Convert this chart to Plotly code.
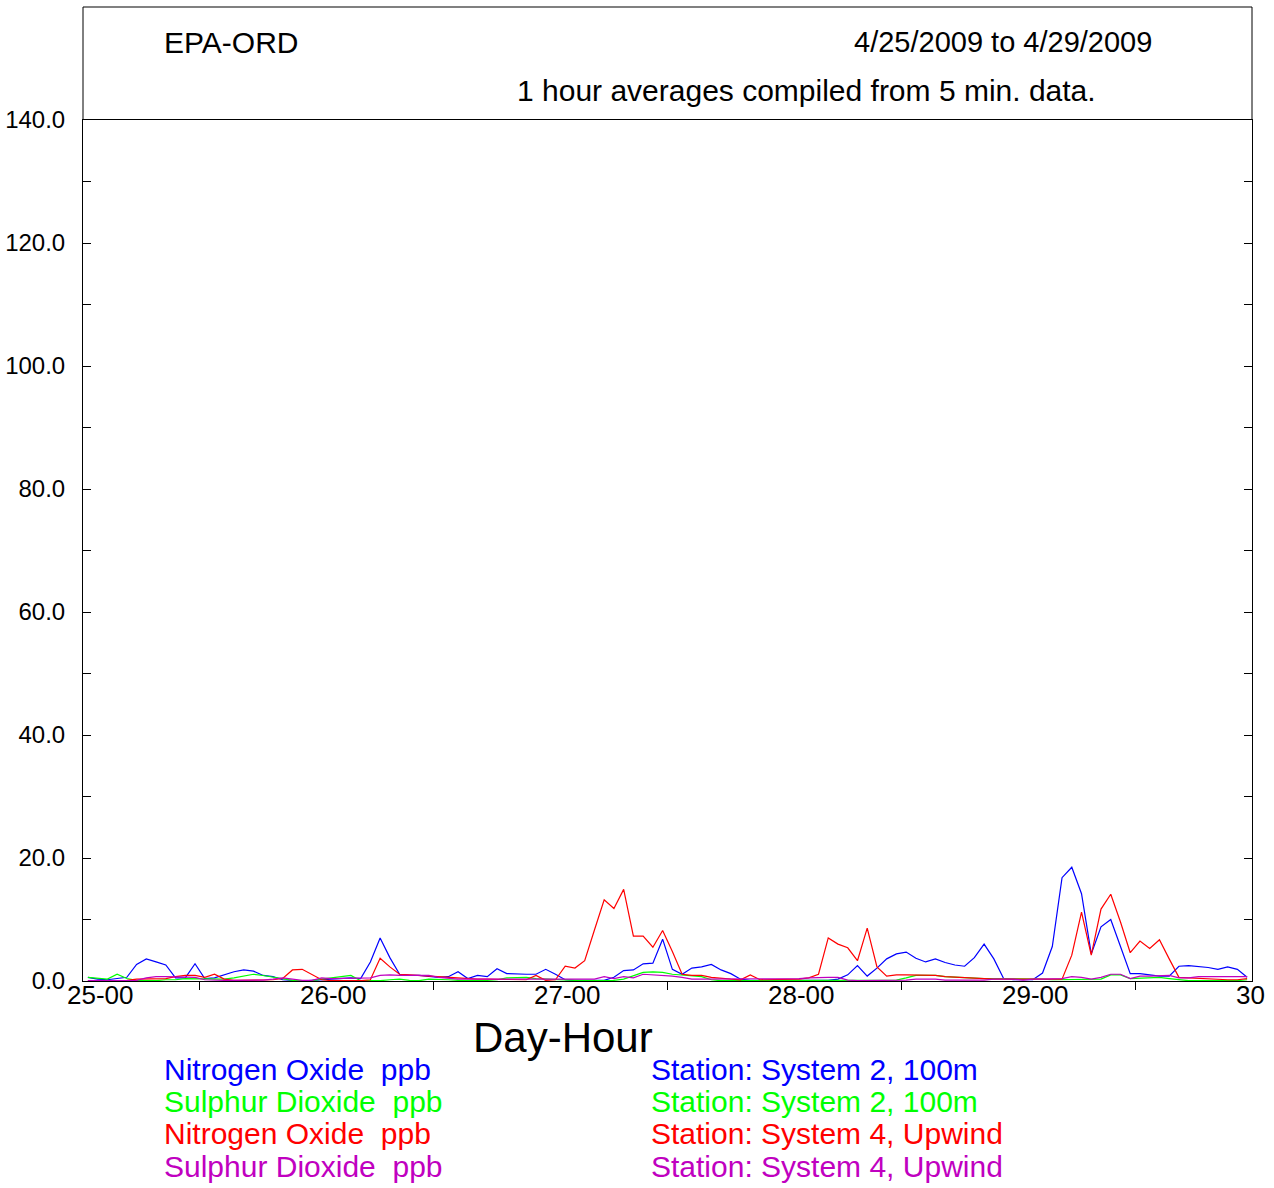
import plotly.graph_objects as go

# hourly averages, 25 Apr 00h .. 29 Apr 23h (one row per day)
nox_sys2 = [
    0.6, 0.3, 0.2, 0.4, 0.6, 2.7, 3.6, 3.1, 2.6, 0.5, 0.5, 2.8, 0.4, 0.5, 1.0, 1.5, 1.8, 1.6, 0.9, 0.7, 0.2, 0.1, 0.0, 0.1,
    0.2, 0.3, 0.5, 0.5, 0.4, 3.1, 7.0, 3.8, 1.1, 0.9, 0.9, 0.7, 0.6, 0.7, 1.5, 0.4, 0.9, 0.7, 2.0, 1.2, 1.1, 1.1, 1.1, 1.9,
    1.1, 0.2, 0.1, 0.1, 0.1, 0.1, 0.6, 1.7, 1.8, 2.8, 2.9, 6.8, 1.9, 1.1, 2.1, 2.3, 2.7, 1.8, 1.2, 0.3, 0.1, 0.1, 0.1, 0.1,
    0.1, 0.1, 0.1, 0.1, 0.1, 0.3, 1.0, 2.5, 0.8, 2.1, 3.6, 4.4, 4.7, 3.7, 3.1, 3.6, 3.0, 2.6, 2.4, 3.8, 6.0, 3.6, 0.4, 0.2,
    0.2, 0.2, 1.3, 5.6, 16.8, 18.5, 14.2, 4.4, 8.8, 10.0, 5.6, 1.2, 1.2, 1.0, 0.8, 0.8, 2.4, 2.5, 2.4, 2.2, 1.9, 2.3, 1.9, 0.6,
]
so2_sys2 = [
    0.6, 0.4, 0.3, 1.1, 0.4, 0.1, 0.05, 0.05, 0.2, 0.2, 0.4, 0.4, 0.3, 0.3, 0.3, 0.5, 0.8, 1.1, 0.9, 0.6, 0.3, 0.1, 0.05, 0.05,
    0.3, 0.5, 0.7, 0.9, 0.05, 0.05, 0.05, 0.2, 0.3, 0.1, 0.05, 0.3, 0.3, 0.2, 0.1, 0.05, 0.05, 0.1, 0.2, 0.5, 0.6, 0.6, 0.4, 0.3,
    0.2, 0.1, 0.1, 0.05, 0.05, 0.05, 0.1, 0.3, 0.8, 1.4, 1.5, 1.4, 1.1, 1.0, 0.8, 0.7, 0.2, 0.05, 0.05, 0.05, 0.05, 0.05, 0.05, 0.05,
    0.05, 0.05, 0.05, 0.05, 0.05, 0.05, 0.05, 0.05, 0.05, 0.05, 0.05, 0.15, 0.5, 0.9, 0.9, 0.9, 0.7, 0.6, 0.5, 0.4, 0.4, 0.4, 0.4, 0.3,
    0.3, 0.3, 0.3, 0.2, 0.2, 0.2, 0.3, 0.2, 0.3, 1.0, 1.0, 0.4, 0.5, 0.6, 0.6, 0.4, 0.2, 0.05, 0.05, 0.05, 0.05, 0.05, 0.05, 0.2,
]
nox_sys4 = [
    0.05, 0.05, 0.05, 0.05, 0.1, 0.3, 0.3, 0.4, 0.4, 0.7, 0.9, 0.9, 0.6, 1.1, 0.3, 0.1, 0.1, 0.1, 0.1, 0.2, 0.4, 1.8, 1.9, 1.0,
    0.2, 0.05, 0.05, 0.05, 0.05, 0.2, 3.7, 2.3, 1.1, 1.0, 0.9, 0.7, 0.7, 0.6, 0.5, 0.4, 0.3, 0.3, 0.3, 0.2, 0.2, 0.2, 0.9, 0.1,
    0.2, 2.4, 2.1, 3.3, 8.3, 13.2, 11.8, 14.9, 7.3, 7.3, 5.5, 8.2, 4.8, 1.1, 0.9, 0.9, 0.6, 0.4, 0.3, 0.2, 1.0, 0.2, 0.2, 0.3,
    0.3, 0.3, 0.5, 1.1, 7.0, 6.0, 5.4, 3.3, 8.6, 2.3, 0.8, 1.0, 1.0, 1.0, 1.0, 0.9, 0.7, 0.6, 0.5, 0.4, 0.4, 0.3, 0.3, 0.3,
    0.3, 0.2, 0.2, 0.2, 0.3, 4.2, 11.2, 4.2, 11.7, 14.1, 9.6, 4.6, 6.5, 5.3, 6.7, 3.6, 0.6, 0.5, 0.4, 0.3, 0.3, 0.2, 0.2, 0.4,
]
so2_sys4 = [
    0.05, 0.05, 0.05, 0.05, 0.1, 0.1, 0.5, 0.7, 0.7, 0.7, 0.7, 0.6, 0.2, 0.1, 0.1, 0.1, 0.1, 0.1, 0.15, 0.3, 0.5, 0.3, 0.1, 0.1,
    0.5, 0.4, 0.4, 0.4, 0.4, 0.5, 0.9, 1.0, 0.9, 0.9, 0.9, 0.9, 0.6, 0.4, 0.3, 0.3, 0.3, 0.3, 0.3, 0.3, 0.3, 0.3, 0.3, 0.3,
    0.3, 0.3, 0.3, 0.3, 0.3, 0.7, 0.4, 0.7, 0.5, 1.1, 1.0, 1.0, 0.8, 0.6, 0.3, 0.3, 0.3, 0.3, 0.3, 0.3, 0.3, 0.3, 0.3, 0.3,
    0.4, 0.4, 0.5, 0.6, 0.6, 0.6, 0.15, 0.05, 0.05, 0.05, 0.05, 0.05, 0.15, 0.3, 0.3, 0.3, 0.15, 0.15, 0.15, 0.15, 0.15, 0.3, 0.3, 0.3,
    0.15, 0.3, 0.3, 0.4, 0.4, 0.7, 0.6, 0.3, 0.6, 1.1, 1.1, 0.4, 0.8, 0.8, 0.9, 0.9, 0.5, 0.5, 0.7, 0.7, 0.7, 0.65, 0.7, 0.7,
]

day_labels = ["25-00", "26-00", "27-00", "28-00", "29-00", "30"]
y_ticks = [0, 10, 20, 30, 40, 50, 60, 70, 80, 90, 100, 110, 120, 130, 140]
pollutants = ["Nitrogen Oxide  ppb", "Sulphur Dioxide  ppb", "Nitrogen Oxide  ppb", "Sulphur Dioxide  ppb"]
stations = ["Station: System 2, 100m", "Station: System 2, 100m",
            "Station: System 4, Upwind", "Station: System 4, Upwind"]
colors = ["#0000ff", "#00ff00", "#ff0000", "#c000c0"]
series = [nox_sys2, so2_sys2, nox_sys4, so2_sys4]

hours = [h + 0.5 for h in range(len(nox_sys2))]  # hour-average midpoints

W, H = 1274, 1188
L, R, T, B = 83, 1252, 120, 981   # plot box in page pixels
FONT = "Liberation Sans, Arial, sans-serif"


def px(xp):
    return (xp - L) / (R - L)


def py(yp):
    return (B - yp) / (B - T)


fig = go.Figure()
for vals, c in zip(series, colors):
    fig.add_trace(go.Scatter(x=hours, y=vals, mode="lines",
                             line=dict(color=c, width=1.2), showlegend=False, hoverinfo="skip"))

fig.update_layout(
    width=W, height=H,
    margin=dict(l=L, r=W - R, t=T, b=H - B),
    paper_bgcolor="white", plot_bgcolor="white",
    font=dict(family=FONT, color="black"),
    showlegend=False,
)
fig.update_xaxes(range=[0, 120], showgrid=False, zeroline=False, automargin=False,
                 showline=True, linecolor="black", linewidth=1, mirror=True,
                 tickvals=[12, 36, 60, 84, 108], showticklabels=False,
                 ticks="outside", ticklen=8, tickcolor="black")
fig.update_yaxes(range=[0, 140], showgrid=False, zeroline=False, automargin=False,
                 showline=True, linecolor="black", linewidth=1, mirror="ticks",
                 tickvals=y_ticks,
                 ticktext=[f"{v:.1f}" if v % 20 == 0 else "" for v in y_ticks],
                 ticks="inside", ticklen=8, tickcolor="black",
                 tickfont=dict(size=24), ticklabelstandoff=12)

# header box above plot
fig.add_shape(type="line", xref="paper", yref="paper", x0=0, x1=1, y0=py(7), y1=py(7),
              line=dict(color="#808080", width=2))
fig.add_shape(type="line", xref="paper", yref="paper", x0=0, x1=0, y0=1, y1=py(7),
              line=dict(color="black", width=1))
fig.add_shape(type="line", xref="paper", yref="paper", x0=1, x1=1, y0=1, y1=py(7),
              line=dict(color="black", width=1))

ann = []
ann.append(dict(text="EPA-ORD", x=px(162), y=py(42), xanchor="left", yanchor="middle",
                font=dict(size=30)))
ann.append(dict(text="4/25/2009 to 4/29/2009", x=px(852), y=py(42), xanchor="left", yanchor="middle",
                font=dict(size=29)))
ann.append(dict(text="1 hour averages compiled from 5 min. data.", x=px(515), y=py(90),
                xanchor="left", yanchor="middle", font=dict(size=30)))

# day labels under the axis
for i, lab in enumerate(day_labels):
    if i < len(day_labels) - 1:
        ann.append(dict(text=lab, xref="x", yref="paper", x=i * 24, xshift=17, y=py(995),
                        xanchor="center", yanchor="middle", font=dict(size=26)))
    else:
        ann.append(dict(text=lab, xref="x", yref="paper", x=i * 24, xshift=-18, y=py(995),
                        xanchor="left", yanchor="middle", font=dict(size=26)))

ann.append(dict(text="Day-Hour", x=px(563), y=py(1037), xanchor="center", yanchor="middle",
                font=dict(size=42)))

for i, (p, s, c) in enumerate(zip(pollutants, stations, colors)):
    yy = py(1069 + i * 32.4)
    ann.append(dict(text=p.replace("  ", "&nbsp; "), x=px(162), y=yy, xanchor="left", yanchor="middle",
                    font=dict(size=30, color=c)))
    ann.append(dict(text=s, x=px(649), y=yy, xanchor="left", yanchor="middle",
                    font=dict(size=30, color=c)))

for a in ann:
    a.setdefault("xref", "paper")
    a.setdefault("yref", "paper")
    a["showarrow"] = False
fig.update_layout(annotations=ann)

# page body margin off so the figure sits at the window's top-left corner
fig.write_html("out.html", config={"displayModeBar": False},
               post_script="document.body.style.margin='0px';")
